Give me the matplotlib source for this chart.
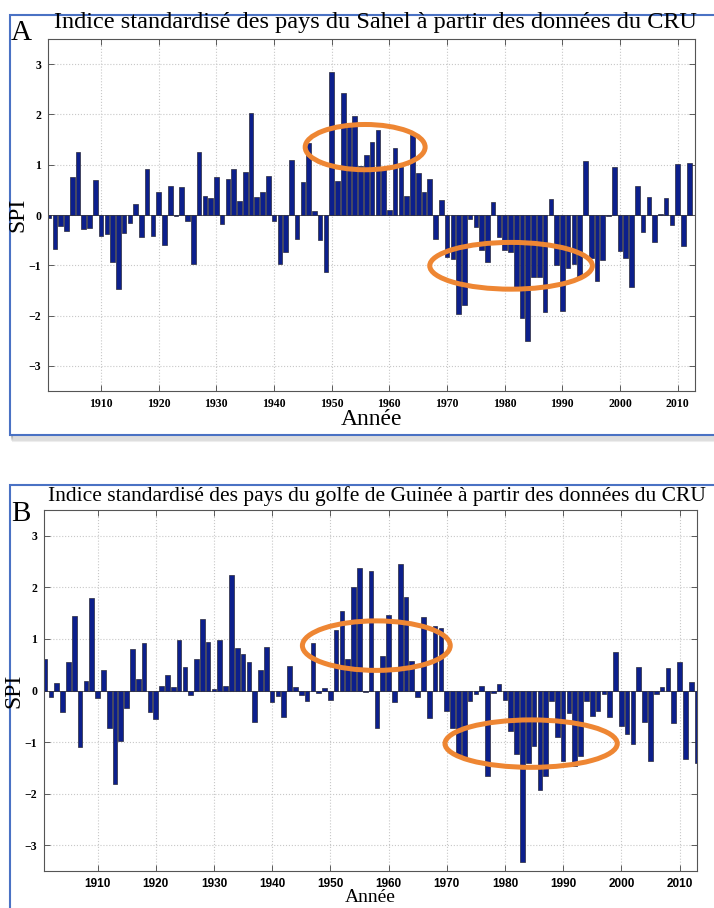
import matplotlib.pyplot as plt
import numpy as np
from matplotlib.patches import Ellipse, Rectangle

W, H = 714, 908

years_a = np.arange(1901, 2013)
spi_a = [
    -0.05, -0.68, -0.21, -0.32, 0.75, 1.26, -0.27, -0.25, 0.70, -0.41,
    -0.37, -0.93, -1.47, -0.35, -0.16, 0.21, -0.43, 0.91, -0.41, 0.45,
    -0.60, 0.58, -0.02, 0.56, -0.12, -0.97, 1.26, 0.38, 0.33, 0.75,
    -0.17, 0.72, 0.91, 0.27, 0.85, 2.03, 0.35, 0.45, 0.77, -0.12,
    -0.98, -0.74, 1.10, -0.48, 0.65, 1.43, 0.07, -0.50, -1.14, 2.84,
    0.68, 2.43, 1.76, 1.97, 0.98, 1.20, 1.46, 1.69, 0.95, 0.10,
    1.33, 0.95, 0.38, 1.60, 0.83, 0.45, 0.71, -0.48, 0.30, -0.83,
    -0.87, -1.97, -1.79, -0.07, -0.23, -0.70, -0.93, 0.25, -0.43, -0.70,
    -0.73, -1.43, -2.05, -2.50, -1.23, -1.23, -1.93, 0.32, -1.00, -1.91,
    -1.05, -0.98, -1.23, 1.08, -0.86, -1.31, -0.90, -0.02, 0.96, -0.71,
    -0.86, -1.44, 0.58, -0.34, 0.35, -0.53, 0.01, 0.33, -0.19, 1.02,
    -0.61, 1.04,
]

years_b = np.arange(1901, 2014)
spi_b = [
    0.62, -0.12, 0.15, -0.42, 0.55, 1.44, -1.10, 0.19, 1.80, -0.15,
    0.39, -0.73, -1.82, -0.97, -0.34, 0.80, 0.23, 0.92, -0.42, -0.55,
    0.08, 0.31, 0.06, 0.98, 0.46, -0.08, 0.62, 1.39, 0.94, 0.03,
    0.98, 0.08, 2.24, 0.83, 0.71, 0.55, -0.61, 0.40, 0.85, -0.23,
    -0.10, -0.51, 0.47, 0.06, -0.08, -0.21, 0.93, -0.04, 0.04, -0.19,
    1.17, 1.55, 0.62, 2.00, 2.37, -0.02, 2.31, -0.73, 0.67, 1.47,
    -0.23, 2.46, 1.82, 0.57, -0.12, 1.42, -0.54, 1.25, 1.22, -0.40,
    -0.73, -1.25, -1.33, -0.21, -0.06, 0.08, -1.66, -0.05, 0.13, -0.19,
    -0.78, -1.24, -3.33, -1.40, -1.08, -1.93, -1.66, -0.21, -0.90, -1.37,
    -0.44, -1.46, -1.27, -0.21, -0.49, -0.39, -0.06, -0.51, 0.74, -0.69,
    -0.85, -1.03, 0.46, -0.62, -1.37, -0.06, 0.06, 0.43, -0.63, 0.56,
    -1.32, 0.17, -1.40,
]

title_a = "Indice standardisé des pays du Sahel à partir des données du CRU"
title_b = "Indice standardisé des pays du golfe de Guinée à partir des données du CRU"
xticks = np.arange(1910, 2011, 10)
yticks = np.arange(-3, 4)

# orange rings (year centre, spi centre, width in years, height in spi)
rings_a = [(1955.8, 1.35, 20.8, 0.9), (1981.1, -1.01, 28.2, 0.93)]
rings_b = [(1957.9, 0.87, 25.4, 0.96), (1984.5, -1.03, 29.6, 0.92)]

SERIF = "Liberation Serif"
SANS = "Liberation Sans"
BAR = "#0c1f8c"
ORANGE = "#ee8633"
FRAME = "#4a72c4"


def px_box(left, top, right, bottom):
    return [left / W, 1 - bottom / H, (right - left) / W, (bottom - top) / H]


def panel(fig, box, years, spi, rings, tick_font, xlabel_size, xlabel_pad):
    ax = fig.add_axes(px_box(*box))
    ax.set_zorder(5)
    ax.bar(years, spi, width=0.8, color=BAR, edgecolor="#2a2a3a", linewidth=0.5, zorder=2)
    ax.axhline(0, color="#555555", linewidth=0.6, zorder=1)
    for cx, cy, w, h in rings:
        ax.add_patch(Ellipse((cx, cy), w, h, fill=False, edgecolor=ORANGE,
                             linewidth=3.6, zorder=3))
    ax.set_xlim(1900.8, 2013)
    ax.set_ylim(-3.5, 3.5)
    ax.set_xticks(xticks)
    ax.set_yticks(yticks)
    ax.grid(True, linestyle=":", color="#c8c8c8", linewidth=0.8, zorder=0)
    ax.set_axisbelow(True)
    ax.tick_params(direction="in", length=4, width=0.6, top=True, right=True,
                   color="#444444", pad=5)
    for lab in ax.get_xticklabels():
        lab.set_fontfamily(tick_font)
        lab.set_fontweight("bold")
        lab.set_fontsize(8.5)
    for lab in ax.get_yticklabels():
        lab.set_fontfamily(SERIF)
        lab.set_fontweight("bold")
        lab.set_fontsize(8.5)
    for s in ax.spines.values():
        s.set_color("#555555")
        s.set_linewidth(0.8)
    ax.set_ylabel("SPI", fontfamily=SERIF, fontsize=17, labelpad=0)
    ax.set_xlabel("Année", fontfamily=SERIF, fontsize=xlabel_size, labelpad=xlabel_pad)
    return ax


fig = plt.figure(figsize=(W / 100, H / 100), dpi=100)

# framed boxes with a soft shadow, like a pasted figure
for (l, t, r, b) in [(10, 15, 730, 435), (10, 485, 730, 930)]:
    for k in range(6):
        fig.patches.append(Rectangle(((l + 2) / W, 1 - (b + 1 + k) / H), (r - l) / W, (b - t) / H,
                                     transform=fig.transFigure, facecolor="none",
                                     edgecolor="#777777", alpha=0.12, linewidth=1.5, zorder=-2))
    fig.patches.append(Rectangle((l / W, 1 - b / H), (r - l) / W, (b - t) / H,
                                 transform=fig.transFigure, facecolor="white",
                                 edgecolor=FRAME, linewidth=1.5, zorder=-1))

panel(fig, (48, 39, 695, 391), years_a, spi_a, rings_a, SERIF, 17, -1)
panel(fig, (44, 510, 697, 871), years_b, spi_b, rings_b, SANS, 14, -1)

fig.text(11 / W, 1 - 40 / H, "A", fontfamily=SERIF, fontsize=21, va="baseline")
fig.text(375 / W, 1 - 28 / H, title_a, fontfamily=SERIF, fontsize=17.5, ha="center", va="baseline")
fig.text(11 / W, 1 - 521 / H, "B", fontfamily=SERIF, fontsize=21, va="baseline")
fig.text(377 / W, 1 - 501 / H, title_b, fontfamily=SERIF, fontsize=15.5, ha="center", va="baseline")

fig.savefig("out.png", dpi=100)
